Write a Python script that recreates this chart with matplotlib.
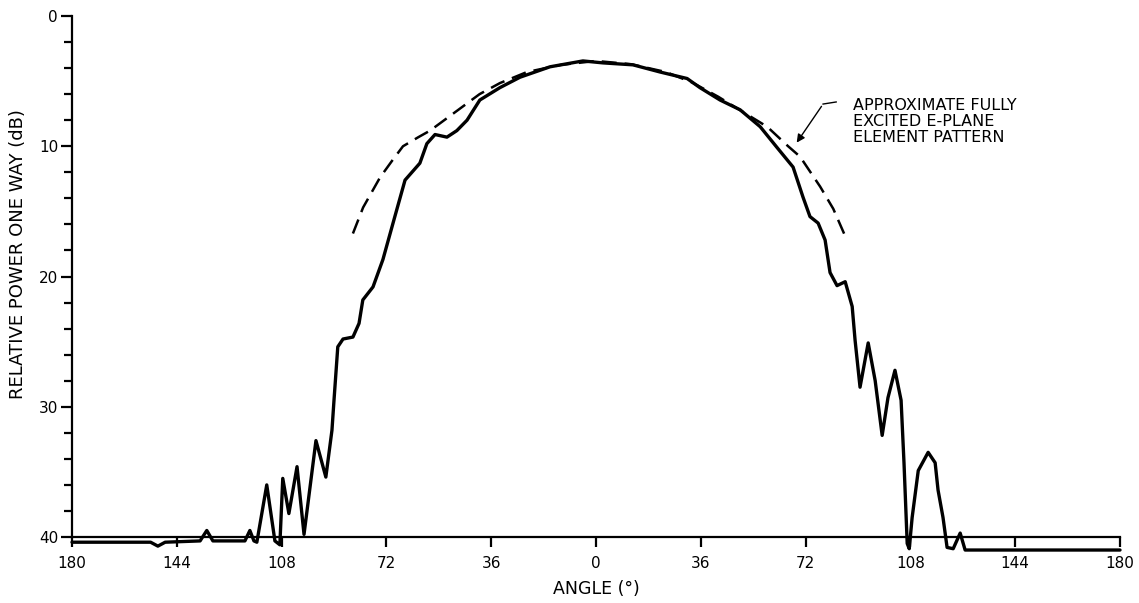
import matplotlib
matplotlib.use("Agg")
import matplotlib.pyplot as plt
from matplotlib.ticker import MultipleLocator, FixedLocator, FuncFormatter

# Measured E-plane pattern (angle in degrees, relative power in dB below peak)
measured_angle = [-180, -170, -153, -150.5, -148, -136, -133.7, -131.6, -120.6, -118.9,
                  -117.5, -116.5, -113.1, -110.3, -108.6, -107.6, -105.5, -102.7, -100.3,
                  -96.2, -92.8, -90.7, -90.0, -88.7, -86.9, -83.5, -81.4, -80.1, -76.6,
                  -73.2, -69.1, -65.6, -60.5, -58.1, -55.3, -51.2, -47.8, -44.3, -39.9,
                  -33.0, -26.1, -15.8, -4.5, 2.4, 12.7, 22.0, 31.3, 35.7, 42.6, 49.5,
                  56.4, 62.2, 67.7, 71.1, 73.5, 76.3, 78.7, 80.4, 82.8, 85.6, 88.0, 89.0,
                  90.7, 93.5, 95.9, 98.3, 100.3, 102.7, 104.8, 105.8, 106.9, 107.6, 108.6,
                  110.7, 114.1, 116.5, 117.5, 119.2, 120.6, 122.7, 125.1, 126.8, 180]
measured_db = [40.4, 40.4, 40.4, 40.7, 40.4, 40.3, 39.5, 40.3, 40.3, 39.5,
               40.3, 40.4, 36.0, 40.3, 40.6, 35.5, 38.2, 34.6, 39.8,
               32.6, 35.4, 31.8, 29.5, 25.4, 24.8, 24.65, 23.6, 21.8, 20.8,
               18.7, 15.4, 12.6, 11.3, 9.8, 9.1, 9.3, 8.8, 8.0, 6.45,
               5.5, 4.7, 3.9, 3.45, 3.6, 3.75, 4.3, 4.8, 5.5, 6.45, 7.2,
               8.5, 10.1, 11.6, 13.9, 15.4, 15.9, 17.2, 19.7, 20.7, 20.4, 22.3, 24.9,
               28.5, 25.1, 28.0, 32.2, 29.3, 27.2, 29.5, 34.3, 40.5, 40.9, 38.5,
               34.9, 33.5, 34.3, 36.4, 38.5, 40.8, 40.9, 39.7, 41.0, 41.0]

# Approximate fully excited E-plane element pattern (dashed)
element_angle = [-83.5, -80.0, -74.2, -70.0, -66.3, -61.0, -57.0, -49.1, -40.0, -33.0,
                 -23.7, -12.0, 0.0, 12.0, 24.0, 33.0, 42.0, 50.0, 58.8, 66.0, 70.1,
                 77.0, 81.5, 85.6]
element_db = [16.7, 14.7, 12.4, 11.1, 10.0, 9.3, 8.8, 7.5, 6.0, 5.15,
              4.3, 3.75, 3.45, 3.7, 4.3, 5.1, 6.2, 7.3, 8.5, 10.0, 10.8,
              13.1, 14.8, 16.9]

x_ticks = [-180, -144, -108, -72, -36, 0, 36, 72, 108, 144, 180]
y_ticks = [0, 10, 20, 30, 40]

annotation_text = "APPROXIMATE FULLY\nEXCITED E-PLANE\nELEMENT PATTERN"

plt.rcParams['font.family'] = ['DejaVu Sans']

fig = plt.figure(figsize=(11.39, 6.03), dpi=100)
fig.patch.set_facecolor("white")
ax = fig.add_axes([72 / 1139, 1 - 537 / 603, 1048 / 1139, 521 / 603])

ax.plot(measured_angle, measured_db, color="black", lw=2.4, clip_on=False,
        solid_joinstyle="round", solid_capstyle="round")
ax.plot(element_angle, element_db, color="black", lw=1.8, dashes=(6, 3.2),
        clip_on=False)

ax.set_xlim(-180, 180)
ax.set_ylim(40, 0)

for s in ["top", "right"]:
    ax.spines[s].set_visible(False)
for s in ["left", "bottom"]:
    ax.spines[s].set_linewidth(1.6)

ax.xaxis.set_major_locator(FixedLocator(x_ticks))
ax.xaxis.set_major_formatter(FuncFormatter(lambda v, p: f"{abs(int(round(v)))}"))
ax.yaxis.set_major_locator(FixedLocator(y_ticks))
ax.yaxis.set_minor_locator(MultipleLocator(2))

ax.tick_params(axis="x", direction="out", length=7, width=1.6, pad=7, labelsize=11)
ax.tick_params(axis="y", which="major", direction="out", length=8, width=1.6, pad=2,
               labelsize=11)
ax.tick_params(axis="y", which="minor", direction="out", length=6, width=1.6)

ax.set_xlabel("ANGLE (°)", fontsize=12.5, labelpad=6)
ax.set_ylabel("RELATIVE POWER ONE WAY (dB)", fontsize=13)
ax.yaxis.set_label_coords(-0.043, 0.543)

ax.annotate("", xy=(68.4, 9.9), xytext=(78.0, 6.76),
            arrowprops=dict(arrowstyle="-|>", color="black", lw=1.0,
                            mutation_scale=12), annotation_clip=False)
ax.plot([78.0, 82.5], [6.76, 6.6], color="black", lw=1.0)
ax.text(88.3, 8.1, annotation_text, fontsize=11.5, ha="left", va="center",
        linespacing=1.1)

fig.savefig("out.png", dpi=100, facecolor="white")
